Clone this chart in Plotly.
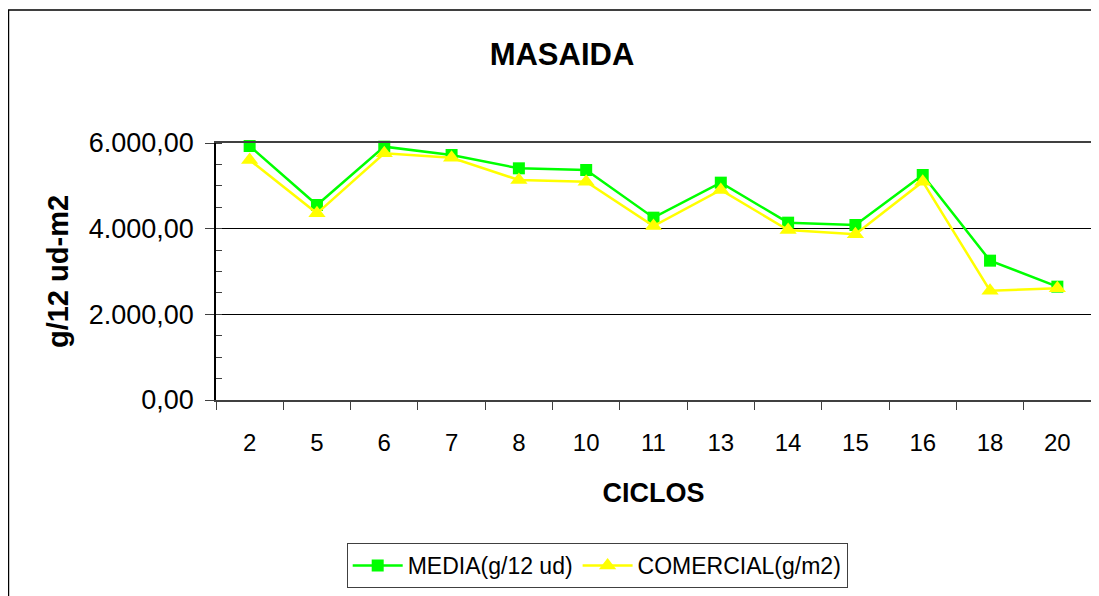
import plotly.graph_objects as go

ciclos = ["2", "5", "6", "7", "8", "10", "11", "13", "14", "15", "16", "18", "20"]
media = [5930, 4553, 5914, 5720, 5409, 5370, 4257, 5074, 4140, 4086, 5253, 3253, 2646]
comercial = [5603, 4358, 5759, 5657, 5136, 5097, 4062, 4903, 3969, 3868, 5097, 2553, 2607]

OFF = 8  # page body margin
W, H = 1099 - OFF, 596 - OFF
L, R, T, B = 216 - OFF, 1093 - OFF, 143 - OFF, 400 - OFF
pw, ph = R - L, B - T

def px(x):
    return (x - OFF - L) / pw

def py(y):
    return (B - (y - OFF)) / ph

FONT = "Liberation Sans, Arial, sans-serif"

fig = go.Figure()
fig.add_trace(go.Scatter(
    x=ciclos, y=media, name="MEDIA(g/12 ud)", mode="lines+markers",
    line=dict(color="#00FF00", width=2.5),
    marker=dict(symbol="square", size=12, color="#00FF00"),
    cliponaxis=False,
))
fig.add_trace(go.Scatter(
    x=ciclos, y=comercial, name="COMERCIAL(g/m2)", mode="lines+markers",
    line=dict(color="#FFFF00", width=2.5),
    marker=dict(symbol="triangle-up", size=15, color="#FFFF00"),
    cliponaxis=False,
))

fig.update_layout(
    width=W, height=H,
    margin=dict(l=L, r=W - R, t=T, b=H - B, pad=0),
    paper_bgcolor="white", plot_bgcolor="white",
    separators=",.",
    font=dict(family=FONT, color="black"),
    title=dict(text="<b>MASAIDA</b>", font=dict(size=31, family=FONT, color="black"),
               x=(562 - OFF) / W, xanchor="center", xref="container",
               y=1 - (54 - OFF) / H, yanchor="middle", yref="container"),
    showlegend=True,
    legend=dict(orientation="h", x=px(347), xanchor="left", y=py(543), yanchor="top",
                bordercolor="#404040", borderwidth=1, bgcolor="white",
                font=dict(size=23, family=FONT, color="black"),
                itemwidth=50, tracegroupgap=0),
    xaxis=dict(
        type="category", range=[-0.5, len(ciclos) - 0.5], autorange=False,
        showgrid=False, zeroline=False,
        showline=True, linecolor="#404040", linewidth=1.5, mirror=True,
        ticks="outside", ticklen=8, tickcolor="#404040", tickson="boundaries",
        tickfont=dict(size=24, family=FONT, color="black"),
        ticklabelstandoff=20,
        title=dict(text="<b>CICLOS</b>", font=dict(size=27, family=FONT, color="black"), standoff=29),
    ),
    yaxis=dict(
        range=[0, 6000], autorange=False, tickvals=[0, 2000, 4000, 6000], tickformat=",.2f",
        showgrid=True, gridcolor="black", gridwidth=1, zeroline=False,
        showline=True, linecolor="black", linewidth=1.5, mirror=True,
        ticks="outside", ticklen=9, tickcolor="#404040",
        tickfont=dict(size=27, family=FONT, color="black"),
        ticklabelstandoff=6,
        minor=dict(dtick=500, tick0=0, ticks="inside", ticklen=6, tickcolor="#404040", showgrid=False),
        title=dict(text="<b>g/12 ud-m2</b>", font=dict(size=29, family=FONT, color="black"), standoff=12),
    ),
    shapes=[dict(type="rect", xref="paper", yref="paper",
                 x0=px(8), x1=px(1115), y0=py(10), y1=py(615),
                 line=dict(color="black", width=1.5), fillcolor="rgba(0,0,0,0)", layer="below")],
)

fig.write_html("out.html")
